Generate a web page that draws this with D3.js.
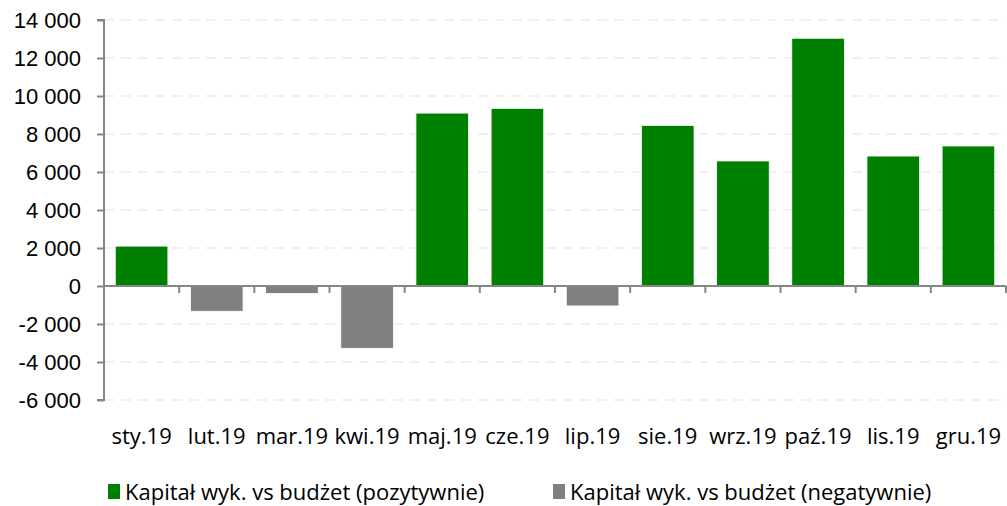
<!DOCTYPE html>
<html>
<head>
<meta charset="utf-8">
<script src="https://cdn.jsdelivr.net/npm/d3@7"></script>
<style>
  body { margin: 0; background: #fff; }
  svg { display: block; font-family: 'Open Sans', Lato, sans-serif; }
</style>
</head>
<body>
<svg id="chart" width="1007" height="506"></svg>
<script>
// data
const months = ['sty.19', 'lut.19', 'mar.19', 'kwi.19', 'maj.19', 'cze.19',
  'lip.19', 'sie.19', 'wrz.19', 'paź.19', 'lis.19', 'gru.19'];
const values = [2100, -1330, -400, -3280, 9100, 9350, -1050, 8450, 6580, 13040, 6840, 7370];
const yTicks = [-6000, -4000, -2000, 0, 2000, 4000, 6000, 8000, 10000, 12000, 14000];
const seriesNames = ['Kapitał wyk. vs budżet (pozytywnie)', 'Kapitał wyk. vs budżet (negatywnie)'];
const seriesColors = ['#008000', '#808080'];

const axisColor = '#868686';
const fontSize = 22;
const svg = d3.select('#chart');

const margin = { top: 20, right: 1, bottom: 106, left: 104 };
const width = 1007 - margin.left - margin.right;
const height = 506 - margin.top - margin.bottom;

const g = svg.append('g')
  .attr('transform', `translate(${margin.left}, ${margin.top})`);

const x = d3.scaleBand()
  .domain(months)
  .range([0, width])
  .paddingInner(0.3)
  .paddingOuter(0.15);

const y = d3.scaleLinear()
  .domain([-6000, 14000])
  .range([height, 0]);

// dashed gridlines
g.append('g')
  .selectAll('line')
  .data(yTicks.filter(d => d !== 0))
  .enter()
  .append('line')
  .attr('x1', 0)
  .attr('x2', width)
  .attr('y1', d => y(d))
  .attr('y2', d => y(d))
  .attr('stroke', '#ebebeb')
  .attr('stroke-width', 1.5)
  .attr('stroke-dasharray', '10 7');

// bars
g.append('g')
  .selectAll('rect')
  .data(values)
  .enter()
  .append('rect')
  .attr('x', (d, i) => x(months[i]))
  .attr('width', x.bandwidth())
  .attr('y', d => y(Math.max(0, d)))
  .attr('height', d => Math.abs(y(d) - y(0)))
  .attr('fill', d => (d >= 0 ? seriesColors[0] : seriesColors[1]))
  .attr('stroke', '#ffffff')
  .attr('stroke-width', 0.8);

// y axis
const yAxis = g.append('g')
  .call(d3.axisLeft(y)
    .tickValues(yTicks)
    .tickSize(7)
    .tickPadding(16)
    .tickFormat(d => d3.format(',')(d).replace(/,/g, ' ').replace('−', '-')));

yAxis.selectAll('path, line')
  .attr('stroke', axisColor)
  .attr('stroke-width', 2);
yAxis.select('path').attr('d', `M-7,${y(14000)}H0V${y(-6000)}H-7`);
yAxis.selectAll('text')
  .attr('fill', '#000')
  .attr('font-size', fontSize);

// category axis on the zero line
const xAxis = g.append('g')
  .attr('transform', `translate(0, ${y(0)})`);

xAxis.append('line')
  .attr('x1', 0)
  .attr('x2', width)
  .attr('stroke', axisColor)
  .attr('stroke-width', 2);

xAxis.selectAll('line.tick')
  .data(d3.range(1, months.length + 1))
  .enter()
  .append('line')
  .attr('class', 'tick')
  .attr('x1', d => d * x.step())
  .attr('x2', d => d * x.step())
  .attr('y1', 0)
  .attr('y2', 7)
  .attr('stroke', axisColor)
  .attr('stroke-width', 2);

// month labels below the plot
g.append('g')
  .selectAll('text')
  .data(months)
  .enter()
  .append('text')
  .attr('x', d => x(d) + x.bandwidth() / 2)
  .attr('y', height + 44)
  .attr('text-anchor', 'middle')
  .attr('font-size', fontSize)
  .attr('fill', '#000')
  .text(d => d);

// legend
const legend = svg.append('g')
  .attr('transform', 'translate(108, 492)');

const legendX = [0, 445];
const items = legend.selectAll('g')
  .data(seriesNames)
  .enter()
  .append('g')
  .attr('transform', (d, i) => `translate(${legendX[i]}, 0)`);

items.append('rect')
  .attr('x', 0)
  .attr('y', -8)
  .attr('width', 12)
  .attr('height', 15)
  .attr('fill', (d, i) => seriesColors[i]);

items.append('text')
  .attr('x', 17)
  .attr('y', 8)
  .attr('font-size', fontSize)
  .attr('fill', '#000')
  .text(d => d);
</script>
</body>
</html>
